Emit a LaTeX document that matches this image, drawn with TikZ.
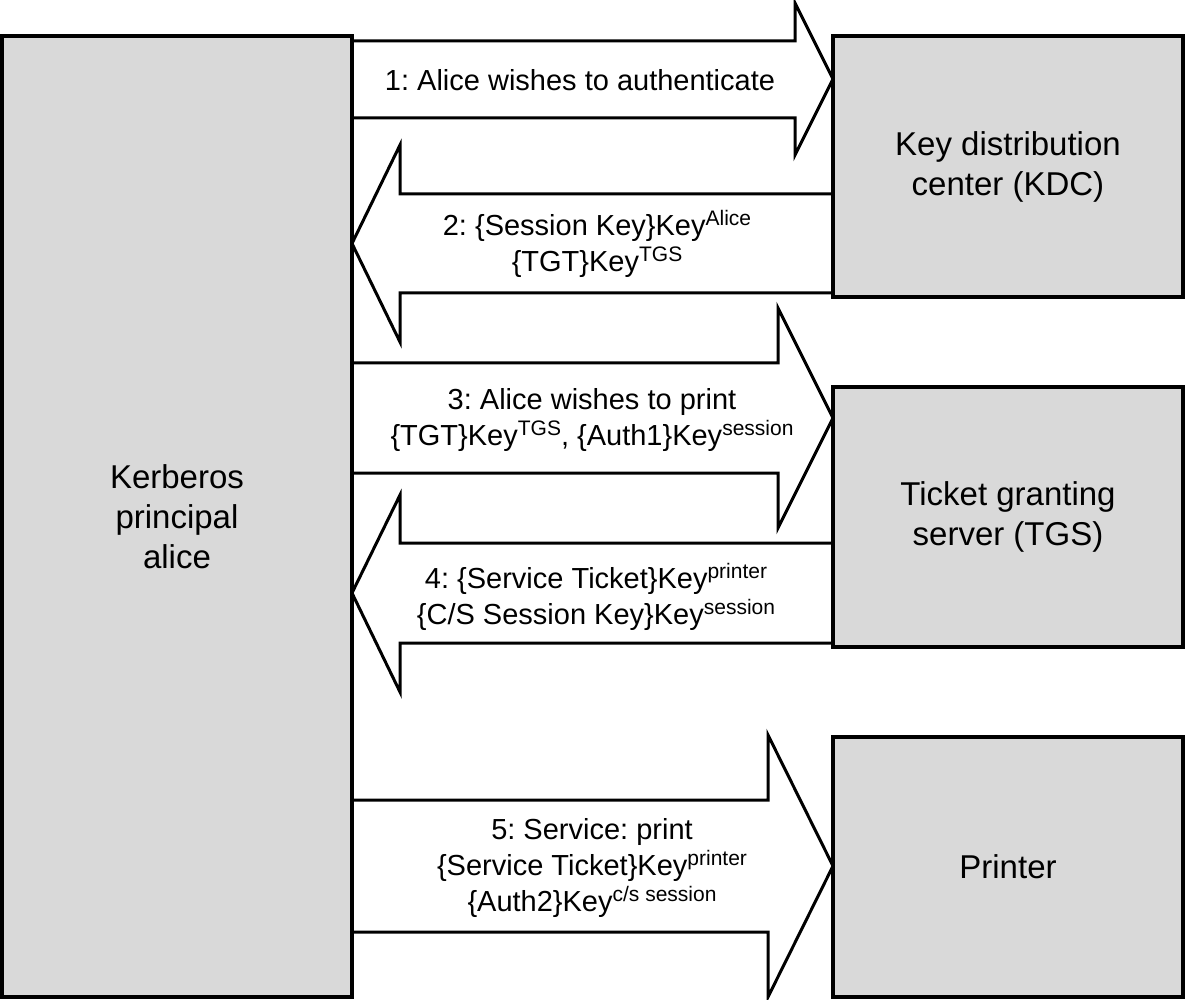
\documentclass[tikz,border=0pt]{standalone}
\usepackage{fontspec}
\setmainfont{Liberation Sans}
\definecolor{boxgray}{RGB}{217,217,217}
\newcommand\kexp[1]{\raisebox{10pt}{\fontsize{21}{21}\selectfont #1}}
\pgfdeclarelayer{bg}
\pgfsetlayers{bg,main}
\begin{document}
\frenchspacing
\begin{tikzpicture}[x=1pt,y=-1pt,
  box/.style={draw=black, fill=boxgray, line width=4pt, outer sep=0pt, inner sep=0pt,
    minimum width=350pt, align=center, font=\fontsize{33}{40}\selectfont},
  blockarrow/.style={draw=black, fill=white, line width=3pt, line join=miter},
  lbl/.style={align=center, inner sep=0pt, font=\fontsize{29}{36}\selectfont}]
\useasboundingbox (0,0) rectangle (1187,1000);
% boxes
\node[box, minimum height=961pt] (alice) at (177,516.5) {Kerberos\\principal\\alice};
\node[box, minimum height=261pt] (kdc) at (1008,166.5) {Key distribution\\center (KDC)};
\node[box, minimum height=260pt] (tgs) at (1008,517) {Ticket granting\\server (TGS)};
\node[box, minimum height=260pt] (prn) at (1008,867) {Printer};
% block arrows
\begin{pgfonlayer}{bg}
\draw[blockarrow] (alice.east |- 0,41) -- (795,41) -- (795,3) -- (kdc.west |- 0,79)
  -- (795,155) -- (795,118) -- (alice.east |- 0,118) -- cycle;
\draw[blockarrow] (kdc.west |- 0,194) -- (400,194) -- (400,145) -- (alice.east |- 0,243.5)
  -- (400,342) -- (400,293) -- (kdc.west |- 0,293) -- cycle;
\draw[blockarrow] (alice.east |- 0,363) -- (778,363) -- (778,308) -- (tgs.west |- 0,418)
  -- (778,528) -- (778,473) -- (alice.east |- 0,473) -- cycle;
\draw[blockarrow] (tgs.west |- 0,543) -- (400,543) -- (400,495) -- (alice.east |- 0,593)
  -- (400,692) -- (400,643) -- (tgs.west |- 0,643) -- cycle;
\draw[blockarrow] (alice.east |- 0,800) -- (768,800) -- (768,735) -- (prn.west |- 0,866)
  -- (768,997) -- (768,932) -- (alice.east |- 0,932) -- cycle;
\end{pgfonlayer}
% labels
\node[lbl] (m1) at (580,80) {1: Alice wishes to authenticate};
\node[lbl] (m2) at (597,244) {2: \{Session Key\}Key\kexp{Alice}\\\{TGT\}Key\kexp{TGS}};
\node[lbl] (m3) at (592,420) {3: Alice wishes to print\\\{TGT\}Key\kexp{TGS}, \{Auth1\}Key\kexp{session}};
\node[lbl] (m4) at (596,597) {4: \{Service Ticket\}Key\kexp{printer}\\\{C/S Session Key\}Key\kexp{session}};
\node[lbl] (m5) at (592,868) {5: Service: print\\\{Service Ticket\}Key\kexp{printer}\\\{Auth2\}Key\kexp{c/s session}};
\end{tikzpicture}
\end{document}
